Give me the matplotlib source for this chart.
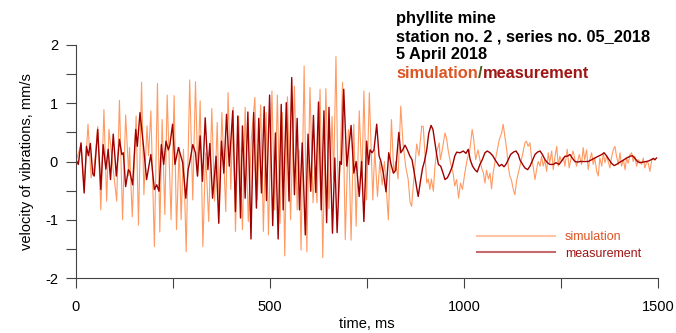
import numpy as np
import matplotlib
matplotlib.use("Agg")
import matplotlib.pyplot as plt
from matplotlib.lines import Line2D

plt.rcParams["font.family"] = ["Liberation Sans", "DejaVu Sans"]
plt.rcParams["axes.unicode_minus"] = False

# simulated velocity, extrema (ms, mm/s)
sim_t = [0, 13, 21, 31, 39, 47, 56, 64, 72, 79, 85, 96, 105, 112, 120, 128, 136, 138, 145,
         155, 161, 169, 175, 183, 187, 193, 202, 210, 216, 222, 229, 235, 245, 253, 259, 266,
         271, 277, 284, 293, 301, 308, 314, 320, 327, 334, 342, 350, 357, 364, 369, 376, 386,
         392, 399, 405, 411, 419, 429, 436, 444, 452, 461, 467, 476, 483, 490, 496, 505, 512,
         519, 526, 532, 538, 545, 553, 563, 570, 575, 580, 588, 595, 603, 611, 616, 621, 629,
         636, 644, 652, 660, 664, 670, 676, 681, 687, 694, 702, 709, 716, 722, 730, 737, 742,
         749, 756, 765, 770, 777, 783, 789, 795, 805, 813, 819, 824, 830, 837, 843, 850, 856,
         861, 865, 872, 878, 884, 891, 895, 900, 904, 908, 912, 916, 921, 925, 929, 936, 939,
         944, 951, 955, 959, 965, 972, 976, 981, 986, 991, 996, 1002, 1008, 1015, 1021, 1025,
         1030, 1036, 1041, 1045, 1050, 1054, 1058, 1063, 1067, 1071, 1075, 1080, 1086, 1091,
         1097, 1101, 1105, 1110, 1114, 1118, 1122, 1127, 1131, 1136, 1140, 1144, 1150, 1157,
         1161, 1165, 1170, 1174, 1178, 1183, 1187, 1191, 1196, 1200, 1204, 1208, 1213, 1217,
         1221, 1226, 1230, 1234, 1239, 1243, 1247, 1251, 1256, 1260, 1266, 1271, 1277, 1281,
         1290, 1297, 1303, 1307, 1311, 1316, 1320, 1324, 1329, 1333, 1337, 1342, 1346, 1350,
         1355, 1359, 1363, 1368, 1376, 1380, 1385, 1389, 1393, 1398, 1402, 1406, 1411, 1415,
         1419, 1423, 1428, 1432, 1436, 1440, 1445, 1449, 1453, 1458, 1462, 1466, 1471, 1475,
         1479, 1484, 1488, 1492]
sim_v = [0.0, 0.3, -0.45, 0.64, -0.28, -0.1, 0.60, -0.83, 0.89, -0.68, 0.55, -0.14, -0.68,
         1.05, -1.0, 0.8, -0.25, 0.24, -0.95, 0.78, -1.09, 1.36, -0.57, 0.61, 0.1, 0.87, -1.46,
         1.34, -1.21, 0.72, -0.91, 1.14, -1.0, 1.13, -1.17, 0.24, -1.0, 0.21, -1.55, 1.40,
         -0.66, 1.37, -0.25, 1.04, -1.46, 0.15, -1.03, 0.91, -0.68, 0.67, -0.86, 0.84, -0.86,
         1.18, -0.48, 0.93, -1.2, 0.78, -1.17, 0.93, -1.03, 0.4, 1.10, -0.66, 0.97, -1.2, 0.84,
         -1.26, 1.21, -0.83, 1.14, -1.06, 0.84, -1.62, 1.11, -1.0, 1.29, -0.83, 0.2, -1.52,
         1.64, -1.55, 1.27, -0.71, -0.1, -0.71, 1.24, -1.65, 1.25, -0.81, 0.77, -0.3, 1.80,
         -0.71, 0.0, 1.36, -1.34, 0.55, -1.35, 0.64, -1.11, 0.87, -0.3, 1.21, -0.66, 1.18,
         -0.66, 0.2, -0.6, 0.0, -0.4, 0.0, -1.0, 0.72, -0.2, 0.0, -0.3, 0.95, 0.3, -0.1, -0.3,
         -0.7, -0.77, -0.2, 0.3, 0.1, 0.61, 0.6, 0.05, -0.37, -0.3, -0.48, -0.3, -0.51, -0.1,
         0.15, 0.32, 0.03, 0.2, 0.49, 0.4, 0.2, -0.02, -0.2, -0.42, -0.31, -0.63, -0.37, -0.48,
         -0.2, 0.03, 0.2, 0.55, 0.38, 0.03, 0.2, 0.03, -0.1, -0.2, -0.37, -0.15, -0.3, -0.2,
         -0.47, -0.2, 0.0, 0.21, 0.38, 0.49, 0.64, 0.44, 0.21, -0.08, -0.25, -0.31, -0.48,
         -0.57, -0.31, -0.2, -0.08, 0.09, 0.32, 0.35, 0.26, 0.32, 0.06, -0.08, -0.31, -0.14,
         0.0, -0.08, 0.09, -0.08, 0.03, -0.17, 0.15, -0.02, 0.18, -0.14, 0.06, 0.26, -0.08,
         0.09, 0.0, 0.07, -0.08, 0.21, -0.11, 0.09, 0.18, -0.08, 0.12, -0.05, 0.24, 0.03, 0.2,
         -0.14, 0.03, 0.15, -0.05, 0.06, -0.17, -0.25, 0.06, -0.08, 0.15, -0.02, 0.09, -0.11,
         0.06, 0.21, 0.26, 0.09, -0.05, 0.15, -0.08, 0.03, -0.14, 0.06, -0.03, 0.12, 0.15, 0.0,
         0.09, -0.08, 0.03, 0.0, -0.05, 0.06, -0.11, 0.0, -0.03, -0.17, 0.03, 0.06, 0.03]

# measured velocity
meas_t = [0, 6, 13, 21, 27, 32, 37, 43, 47, 56, 64, 70, 77, 83, 89, 96, 104, 112, 118, 122,
          128, 135, 139, 146, 154, 158, 165, 174, 182, 193, 202, 208, 214, 220, 226, 232, 238,
          242, 249, 255, 264, 275, 283, 289, 293, 301, 308, 313, 320, 326, 333, 340, 345, 352,
          361, 368, 375, 381, 388, 395, 404, 411, 417, 424, 429, 436, 443, 451, 458, 465, 471,
          478, 485, 491, 499, 507, 514, 521, 529, 534, 542, 549, 556, 563, 570, 576, 583, 591,
          598, 605, 612, 618, 625, 632, 639, 646, 652, 661, 667, 673, 680, 684, 690, 698, 709,
          716, 722, 730, 736, 742, 749, 754, 758, 763, 768, 775, 781, 786, 792, 799, 806, 812,
          818, 824, 832, 837, 842, 848, 854, 860, 866, 872, 878, 882, 887, 893, 898, 904, 909,
          915, 920, 925, 930, 934, 940, 946, 951, 957, 963, 970, 976, 981, 990, 998, 1005, 1011,
          1016, 1022, 1028, 1034, 1041, 1047, 1054, 1060, 1067, 1074, 1080, 1086, 1091, 1097,
          1103, 1108, 1114, 1120, 1127, 1134, 1140, 1144, 1151, 1157, 1164, 1170, 1177, 1183,
          1189, 1196, 1202, 1209, 1215, 1221, 1230, 1237, 1245, 1254, 1260, 1266, 1273, 1280,
          1286, 1292, 1299, 1307, 1314, 1320, 1329, 1337, 1346, 1355, 1361, 1367, 1374, 1380,
          1387, 1393, 1402, 1410, 1419, 1428, 1434, 1440, 1447, 1453, 1462, 1470, 1476, 1482,
          1488, 1492, 1496]
meas_v = [0.03, -0.05, 0.32, -0.54, 0.26, 0.1, 0.31, -0.2, -0.25, 0.55, -0.48, 0.29, -0.13,
          0.21, -0.31, 0.47, -0.25, 0.38, 0.12, 0.15, -0.43, -0.14, -0.18, -0.4, 0.55, 0.26,
          0.84, 0.26, -0.31, 0.12, -0.48, -0.4, -0.51, 0.29, -0.05, 0.35, 0.2, 0.29, 0.64,
          -0.05, 0.24, -0.02, -0.63, -0.14, -0.02, 0.29, 0.15, -0.25, 0.44, -0.34, 0.75, -0.14,
          0.31, -0.63, 0.09, -1.06, 0.35, -0.2, 0.81, -0.08, 0.87, -0.86, 0.78, -0.97, 0.61,
          -0.63, 0.85, -1.33, 0.84, -0.8, 0.74, -0.54, 0.94, -0.67, 1.14, -1.1, 0.49, -1.33,
          0.98, -0.83, 1.01, -0.68, 1.44, -0.57, 0.74, -0.83, 0.32, -1.26, 0.47, -0.51, 0.79,
          -0.53, 1.02, -0.83, 0.87, -1.05, 0.93, -1.23, 0.06, -1.22, 0.0, -0.05, 1.24, -0.08,
          0.62, -0.2, 0.0, -0.6, 0.0, -1.03, 0.35, -0.05, 0.2, 0.15, 0.2, 0.64, 0.1, 0.0, -0.2,
          -0.52, 0.15, -0.05, -0.2, -0.15, 0.5, 0.15, 0.2, 0.28, 0.2, 0.1, 0.03, -0.2, -0.45,
          -0.6, -0.37, -0.12, 0.0, 0.2, 0.48, 0.62, 0.55, 0.32, 0.1, -0.05, -0.08, -0.2, -0.31,
          -0.28, -0.2, -0.08, 0.09, 0.16, 0.15, 0.18, 0.14, 0.21, 0.03, -0.08, -0.14, -0.18,
          -0.05, 0.03, 0.15, 0.18, 0.15, 0.1, 0.03, -0.03, -0.08, -0.05, -0.09, -0.05, 0.03,
          0.12, 0.16, 0.18, 0.12, 0.03, -0.05, -0.11, -0.14, -0.08, 0.03, 0.12, 0.16, 0.18,
          0.12, 0.03, -0.02, -0.05, -0.05, -0.02, -0.05, 0.03, 0.09, 0.09, 0.12, 0.05, 0.0,
          -0.01, 0.0, 0.0, 0.0, 0.0, 0.03, 0.06, 0.09, 0.12, 0.15, 0.1, 0.03, -0.03, -0.07,
          -0.05, -0.01, 0.02, 0.06, 0.09, 0.1, 0.06, 0.0, -0.02, -0.01, 0.0, 0.01, 0.03, 0.05,
          0.03, 0.06]

SIM_COL = "#ff9a62"
MEAS_COL = "#a00000"

fig = plt.figure(figsize=(6.76, 3.33), dpi=100)
ax = fig.add_axes([0.1124, 0.165, 0.861, 0.70])

ax.plot(sim_t, sim_v, color=SIM_COL, lw=0.8)
ax.plot(meas_t, meas_v, color=MEAS_COL, lw=1.0)

ax.set_xlim(0, 1500)
ax.set_ylim(-2, 2)
ax.set_xticks([0, 500, 1000, 1500])
ax.set_xticks([250, 750, 1250], minor=True)
ax.set_yticks([-2, -1, 0, 1, 2])
ax.set_yticks([-1.5, -0.5, 0.5, 1.5], minor=True)
ax.tick_params(which="both", direction="out", length=7, width=0.8, colors="#444444",
               labelsize=10.5, labelcolor="black")
ax.tick_params(axis="x", pad=9)
ax.tick_params(axis="y", pad=6)
for s in ("top", "right"):
    ax.spines[s].set_visible(False)
for s in ("left", "bottom"):
    ax.spines[s].set_color("#444444")
    ax.spines[s].set_linewidth(0.8)
ax.spines["left"].set_bounds(-2, 2)

ax.set_xlabel("time, ms", fontsize=10.5, labelpad=2)
ax.set_ylabel("velocity of vibrations, mm/s", fontsize=10.5, labelpad=8)

handles = [Line2D([], [], color="#ffc4a4", lw=1.5), Line2D([], [], color="#c46a6a", lw=1.5)]
leg = ax.legend(handles, ["simulation", "measurement"], loc="lower right",
                bbox_to_anchor=(0.99, 0.03), frameon=False, fontsize=9,
                handlelength=6.2, handletextpad=0.8, labelspacing=0.35)
leg.get_texts()[0].set_color("#dd5522")
leg.get_texts()[1].set_color("#a01515")

tx = 0.586
fs = 11.8
for y, s in [(0.943, "phyllite mine"), (0.889, "station no. 2 , series no. 05_2018"),
             (0.835, "5 April 2018")]:
    fig.text(tx, y, s, fontsize=fs, fontweight="bold", va="center", ha="left")

fig.canvas.draw()
r = fig.canvas.get_renderer()
x = tx
for s, c in [("simulation", "#dd5522"), ("/", "#4b5a1e"), ("measurement", "#a01515")]:
    t = fig.text(x, 0.778, s, fontsize=fs, fontweight="bold", va="center", ha="left", color=c)
    bb = t.get_window_extent(r)
    x += bb.width / fig.bbox.width

fig.savefig("out.png", dpi=100)
